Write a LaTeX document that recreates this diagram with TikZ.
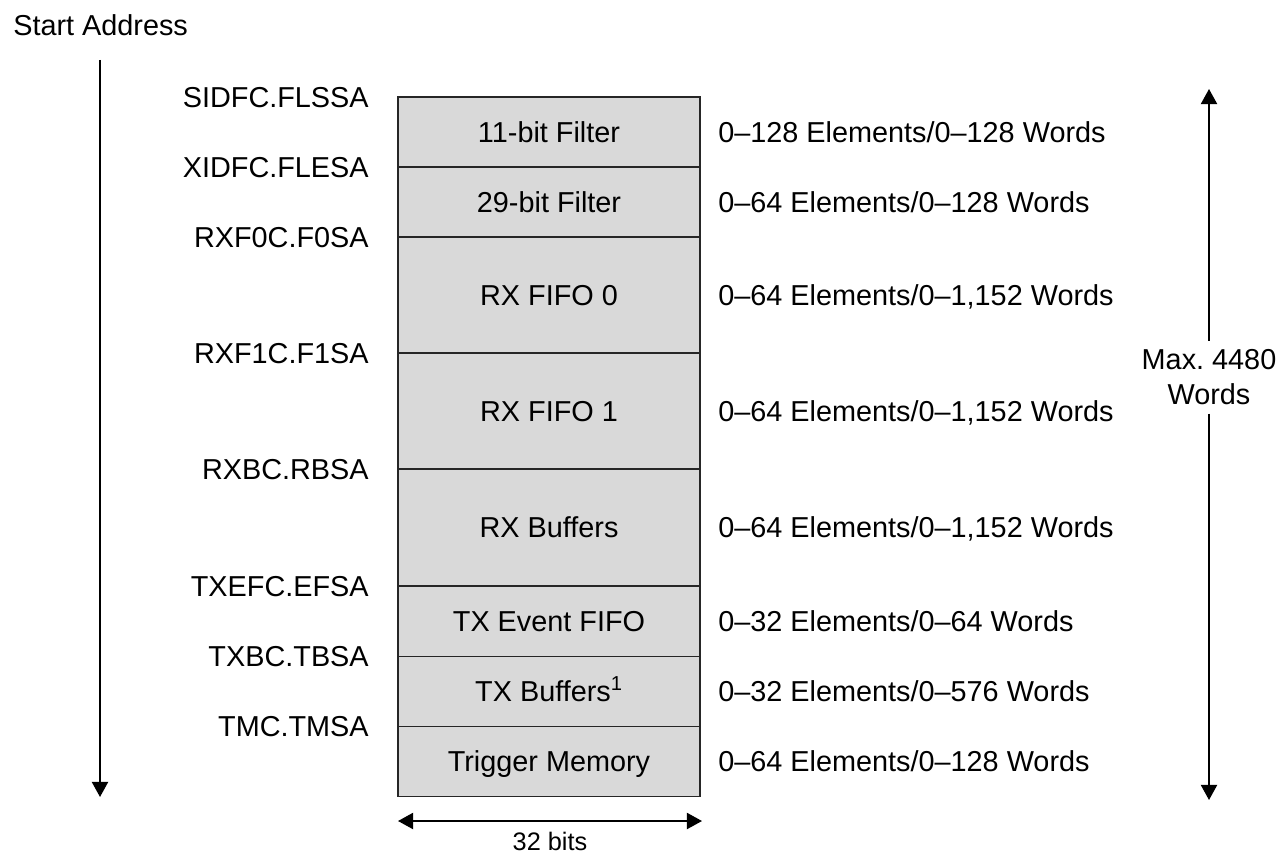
\documentclass[tikz,border=0pt]{standalone}
\usepackage{fontspec}
\setmainfont{Liberation Sans}
\frenchspacing
\usetikzlibrary{positioning,arrows.meta}
\tikzset{x=0.025cm, y=-0.025cm,
  txt/.style={font=\fontsize{20.5}{25}\selectfont},
  mem/.style={txt, draw=black!85, fill=black!15, line width=0.9pt, outer sep=0pt, minimum width=7.55cm, text height=14.6pt, text depth=0pt},
  addr/.style={txt, inner sep=0pt, text height=14.6pt, text depth=0pt},
  sz/.style={txt, inner sep=0pt, text height=14.6pt, text depth=0pt},
  tip/.style={line width=1.4pt, -{Triangle[width=11.4pt,length=10.7pt]}},
  span/.style={line width=1.4pt, {Triangle[width=11.4pt,length=10.7pt]}-{Triangle[width=11.4pt,length=10.7pt]}}}

\begin{document}
\begin{tikzpicture}
  \useasboundingbox (0,0) rectangle (1281,854);

  % memory sections
  \node[mem, minimum height=1.75cm] (filt11) at (549,132) {11-bit Filter};
  \node[mem, minimum height=1.75cm, below=0pt of filt11] (filt29) {29-bit Filter};
  \node[mem, minimum height=2.9cm, below=0pt of filt29] (fifo0) {RX FIFO 0};
  \node[mem, minimum height=2.9cm, below=0pt of fifo0] (fifo1) {RX FIFO 1};
  \node[mem, minimum height=2.925cm, below=0pt of fifo1] (rxbuf) {RX Buffers};
  \node[mem, minimum height=1.75cm, below=0pt of rxbuf] (txevt) {TX Event FIFO};
  \node[mem, minimum height=1.75cm, below=0pt of txevt] (txbuf) {TX Buffers\textsuperscript{1}};
  \node[mem, minimum height=1.75cm, below=0pt of txbuf] (trig) {Trigger Memory};

  % start addresses
  \node[addr, left=0.725cm of filt11.north west] (sidfc) {SIDFC.FLSSA};
  \node[addr, left=0.725cm of filt29.north west] (xidfc) {XIDFC.FLESA};
  \node[addr, left=0.725cm of fifo0.north west] (rxf0c) {RXF0C.F0SA};
  \node[addr, left=0.725cm of fifo1.north west] (rxf1c) {RXF1C.F1SA};
  \node[addr, left=0.725cm of rxbuf.north west] (rxbc) {RXBC.RBSA};
  \node[addr, left=0.725cm of txevt.north west] (txefc) {TXEFC.EFSA};
  \node[addr, left=0.725cm of txbuf.north west] (txbc) {TXBC.TBSA};
  \node[addr, left=0.725cm of trig.north west] (tmc) {TMC.TMSA};

  % sizes
  \node[sz, right=0.45cm of filt11] (sz11) {0--128 Elements/0--128 Words};
  \node[sz, right=0.45cm of filt29] (sz29) {0--64 Elements/0--128 Words};
  \node[sz, right=0.45cm of fifo0] (szf0) {0--64 Elements/0--1,152 Words};
  \node[sz, right=0.45cm of fifo1] (szf1) {0--64 Elements/0--1,152 Words};
  \node[sz, right=0.45cm of rxbuf] (szrx) {0--64 Elements/0--1,152 Words};
  \node[sz, right=0.45cm of txevt] (szev) {0--32 Elements/0--64 Words};
  \node[sz, right=0.45cm of txbuf] (sztx) {0--32 Elements/0--576 Words};
  \node[sz, right=0.45cm of trig] (sztm) {0--64 Elements/0--128 Words};

  % address direction
  \node[txt, anchor=west, inner sep=0pt] (start) at (13,25) {Start Address};
  \coordinate (addrtop) at (100,60);
  \coordinate (addrbot) at (100,797);
  \draw[tip] (addrtop) -- (addrbot);

  % total size
  \node[txt, align=center, inner xsep=0pt, inner ysep=6pt] (maxw) at (1209,377) {Max. 4480\\Words};
  \coordinate (maxtop) at (1209,89);
  \coordinate (maxbot) at (1209,800);
  \draw[tip] (maxw) -- (maxtop);
  \draw[tip] (maxw) -- (maxbot);

  % width
  \coordinate (wl) at (398,821);
  \coordinate (wr) at (702,821);
  \draw[span] (wl) -- (wr);
  \node[font=\fontsize{18}{22}\selectfont] (bits) at (550,841) {32 bits};
\end{tikzpicture}
\end{document}
